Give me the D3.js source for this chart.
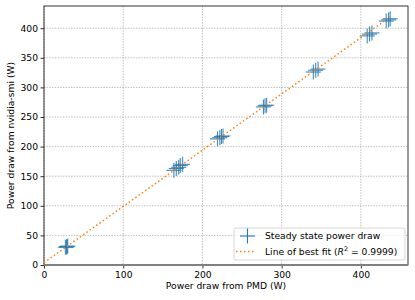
<!DOCTYPE html>
<html>
<head>
<meta charset="utf-8">
<script src="https://cdn.jsdelivr.net/npm/d3@7"></script>
<style>
  body { margin: 0; background: #fff; }
  svg { font-family: "DejaVu Sans", sans-serif; }
</style>
</head>
<body>
<div id="chart"></div>
<script>
// PMD reading (x) vs nvidia-smi reading (y), steady state samples
const pmd_power = [27, 28.5, 30, 29, 164, 167, 170, 172, 175, 219, 222, 224, 226, 277, 279, 281, 340, 343, 346, 408, 411, 414, 432, 435, 437];
const smi_power = [30, 31, 32, 30.5, 160, 163, 165, 168, 170, 213, 215, 217, 218, 267, 269, 270, 326, 329, 331, 387, 390, 392, 412, 414, 416];
const fit_slope = 0.95;
const fit_intercept = 4;
const fit_range = [0, 437];
const x_ticks = [0, 100, 200, 300, 400];
const y_ticks = [0, 50, 100, 150, 200, 250, 300, 350, 400];

const W = 415, H = 300;
const margin = { top: 6, right: 7, bottom: 35, left: 44 };
const width = W - margin.left - margin.right;
const height = H - margin.top - margin.bottom;
const fs = 9.2;

const svg = d3.select("#chart").append("svg")
    .attr("width", W).attr("height", H);
const g = svg.append("g")
    .attr("transform", "translate(" + margin.left + "," + margin.top + ")");

const x = d3.scaleLinear().domain([0, 459.5]).range([0, width]);
const y = d3.scaleLinear().domain([0, 437.5]).range([height, 0]);

// grid
g.append("g").selectAll("line").data(x_ticks).enter().append("line")
    .attr("x1", d => x(d)).attr("x2", d => x(d))
    .attr("y1", 0).attr("y2", height)
    .attr("stroke", "#b0b0b0").attr("stroke-width", 0.8)
    .attr("stroke-dasharray", "1.5,1.2");
g.append("g").selectAll("line").data(y_ticks).enter().append("line")
    .attr("x1", 0).attr("x2", width)
    .attr("y1", d => y(d)).attr("y2", d => y(d))
    .attr("stroke", "#b0b0b0").attr("stroke-width", 0.8)
    .attr("stroke-dasharray", "1.5,1.2");

// axes
const xAxis = g.append("g")
    .attr("transform", "translate(0," + height + ")")
    .call(d3.axisBottom(x).tickValues(x_ticks).tickSize(3.5).tickPadding(2.5).tickSizeOuter(0));
const yAxis = g.append("g")
    .call(d3.axisLeft(y).tickValues(y_ticks).tickSize(3.5).tickPadding(2.5).tickSizeOuter(0));
[xAxis, yAxis].forEach(a => {
    a.selectAll("text").attr("font-size", fs).attr("fill", "#000")
        .attr("font-family", "DejaVu Sans");
    a.selectAll(".tick line").attr("stroke", "#000").attr("stroke-width", 0.8);
    a.select(".domain").remove();
});

// spines
g.append("rect").attr("x", 0).attr("y", 0).attr("width", width).attr("height", height)
    .attr("fill", "none").attr("stroke", "#000").attr("stroke-width", 0.8);
// zero line
g.append("line").attr("x1", 0).attr("x2", width)
    .attr("y1", y(0)).attr("y2", y(0))
    .attr("stroke", "#808080").attr("stroke-width", 2);

// markers
const arm = 7.5;
const pts = g.append("g").selectAll("g").data(pmd_power).enter().append("g")
    .attr("transform", (d, i) => "translate(" + x(d) + "," + y(smi_power[i]) + ")");
pts.append("line").attr("x1", -arm).attr("x2", arm).attr("y1", 0).attr("y2", 0)
    .attr("stroke", "#1f77b4").attr("stroke-width", 1.1).attr("stroke-opacity", 0.85);
pts.append("line").attr("x1", 0).attr("x2", 0).attr("y1", -arm).attr("y2", arm)
    .attr("stroke", "#1f77b4").attr("stroke-width", 1.1).attr("stroke-opacity", 0.85);

// best fit line
g.append("path")
    .datum(fit_range)
    .attr("fill", "none")
    .attr("stroke", "#ff7f0e")
    .attr("stroke-width", 1.5)
    .attr("stroke-dasharray", "1.5,2.5")
    .attr("d", d3.line()
        .x(d => x(d))
        .y(d => y(fit_slope * d + fit_intercept)));

// axis labels
svg.append("text")
    .attr("x", margin.left + width / 2).attr("y", 289)
    .attr("text-anchor", "middle").attr("font-size", fs)
    .text("Power draw from PMD (W)");
svg.append("text")
    .attr("transform", "translate(14," + (margin.top + height / 2) + ") rotate(-90)")
    .attr("text-anchor", "middle").attr("font-size", fs)
    .text("Power draw from nvidia-smi (W)");

// legend
const lg = svg.append("g").attr("transform", "translate(234,228)");
lg.append("rect").attr("width", 171).attr("height", 32).attr("rx", 2)
    .attr("fill", "#fff").attr("fill-opacity", 0.8)
    .attr("stroke", "#cccccc").attr("stroke-width", 0.8);
lg.append("line").attr("x1", 13.5 - arm).attr("x2", 13.5 + arm).attr("y1", 8).attr("y2", 8)
    .attr("stroke", "#1f77b4").attr("stroke-width", 1.1);
lg.append("line").attr("x1", 13.5).attr("x2", 13.5).attr("y1", 8 - arm).attr("y2", 8 + arm)
    .attr("stroke", "#1f77b4").attr("stroke-width", 1.1);
lg.append("text").attr("x", 31).attr("y", 11.3).attr("font-size", fs)
    .text("Steady state power draw");
lg.append("line").attr("x1", 2).attr("x2", 22).attr("y1", 23.5).attr("y2", 23.5)
    .attr("stroke", "#ff7f0e").attr("stroke-width", 1.5).attr("stroke-dasharray", "1.5,2.5");
const t2 = lg.append("text").attr("x", 31).attr("y", 26.8).attr("font-size", fs);
t2.append("tspan").text("Line of best fit (");
t2.append("tspan").attr("font-style", "italic").text("R");
t2.append("tspan").attr("font-size", 6.4).attr("dy", -3.8).text("2");
t2.append("tspan").attr("dy", 3.8).text(" = 0.9999)");
</script>
</body>
</html>
